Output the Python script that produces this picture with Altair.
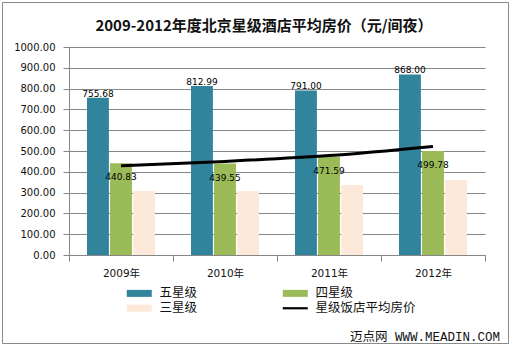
import altair as alt
import pandas as pd

years = ["2009年", "2010年", "2011年", "2012年"]
series = ["五星级", "四星级", "三星级"]
five_star = [755.68, 812.99, 791.00, 868.00]
four_star = [440.83, 439.55, 471.59, 499.78]
three_star = [308, 307, 336, 360]
avg_price = [429, 450, 478, 522]
line_name = "星级饭店平均房价"
colors = ["#31849B", "#9BBB59", "#FDE9D9", "#000000"]
title_text = "2009-2012年度北京星级酒店平均房价（元/间夜）"
source_text = "迈点网 WWW.MEADIN.COM"
y_ticks = list(range(0, 1001, 100))

rows = []
for i, yr in enumerate(years):
    for s, vals in zip(series, [five_star, four_star, three_star]):
        rows.append({"year": yr, "series": s, "value": vals[i]})
bars_df = pd.DataFrame(rows)
line_df = pd.DataFrame({"year": years, "series": [line_name] * 4, "value": avg_price})
legend_df = pd.DataFrame({"series": series + [line_name]})

domain = series + [line_name]
rect_path = "M-2.5,-0.7H2.5V0.7H-2.5Z"
line_path = "M-2.5,-0.22H2.5V0.22H-2.5Z"
color_scale = alt.Scale(domain=domain, range=colors)
bar_scale = alt.Scale(domain=series, range=colors[:3])
shape_scale = alt.Scale(domain=domain, range=[rect_path] * 3 + [line_path])

GRAY = "#868686"
LAT = "DejaVu Sans, Noto Sans CJK SC"
CJK = "Noto Sans CJK SC"

x_enc = alt.X(
    "year:N", sort=years, title=None,
    scale=alt.Scale(paddingInner=0, paddingOuter=0),
    axis=alt.Axis(tickBand="extent", labelAngle=0, labelFont=LAT, labelFontSize=10.5,
                  labelColor="#111", tickColor=GRAY, tickSize=6, domainColor=GRAY,
                  labelPadding=7, grid=False),
)
y_enc = alt.Y(
    "value:Q", title=None,
    scale=alt.Scale(domain=[0, 1000], nice=False),
    axis=alt.Axis(values=y_ticks, format=".2f", labelFont=LAT, labelFontSize=10,
                  labelColor="#111", tickColor=GRAY, tickSize=6, domainColor=GRAY,
                  gridColor=GRAY, gridWidth=1, labelPadding=8, labelOverlap=False),
)
xoff = alt.XOffset("series:N", sort=series,
                   scale=alt.Scale(paddingInner=0.05, paddingOuter=0.78))

bars = alt.Chart(bars_df).mark_bar().encode(
    x=x_enc, y=y_enc, xOffset=xoff,
    fill=alt.Fill("series:N", scale=bar_scale, legend=None),
)

five_lbl = alt.Chart(bars_df).transform_filter(alt.datum.series == "五星级").mark_text(
    font="DejaVu Sans", fontSize=9, color="#000", baseline="alphabetic", dy=-1
).encode(x=x_enc, xOffset=xoff, y=y_enc,
         text=alt.Text("value:Q", format=".2f"))

four_lbl = alt.Chart(bars_df).transform_filter(alt.datum.series == "四星级").mark_text(
    font="DejaVu Sans", fontSize=9, color="#000", baseline="alphabetic", dy=17
).encode(x=x_enc, xOffset=xoff, y=y_enc,
         text=alt.Text("value:Q", format=".2f"))

line = alt.Chart(line_df).mark_line(strokeWidth=3, interpolate="monotone", color="#000").encode(
    x=x_enc, y=y_enc,
)

legend_layer = alt.Chart(legend_df).transform_filter("false").mark_point(filled=True, opacity=1).encode(
    color=alt.Color("series:N", scale=color_scale, title=None,
                    legend=alt.Legend(orient="none", legendX=64, legendY=240, columns=2,
                                      direction="horizontal",
                                      columnPadding=84, rowPadding=2, padding=0,
                                      symbolSize=100, labelOffset=14, labelFont=CJK,
                                      labelFontSize=12.5, labelColor="#111",
                                      symbolStrokeWidth=0)),
    shape=alt.Shape("series:N", scale=shape_scale, title=None),
)

border = alt.Chart(pd.DataFrame({"k": [0]})).mark_rect(
    fillOpacity=0, stroke="#8a8a8a", strokeWidth=1
).encode(x=alt.value(-66.5), x2=alt.value(439.5), y=alt.value(-44.5), y2=alt.value(296.5))

title = alt.Chart(pd.DataFrame({"t": [title_text]})).mark_text(
    font=CJK, fontSize=15, fontWeight="bold", align="center", baseline="alphabetic", color="#111"
).encode(text="t:N", x=alt.value(195), y=alt.value(-16))

source = alt.Chart(pd.DataFrame({"t": [source_text]})).mark_text(
    font="Liberation Mono, Noto Sans CJK SC", fontSize=12.5, align="right",
    baseline="alphabetic", color="#111"
).encode(text="t:N", x=alt.value(431), y=alt.value(294))

chart = alt.layer(bars, line, five_lbl, four_lbl, legend_layer, border, title, source).properties(
    width=416, height=208,
    autosize=alt.AutoSizeParams(type="none"),
    padding={"left": 69, "top": 47, "right": 28, "bottom": 94},
).configure_view(stroke=None).configure_axis(domainWidth=1, tickWidth=1)

chart.save("out.html", embed_options={"renderer": "svg", "actions": False})
